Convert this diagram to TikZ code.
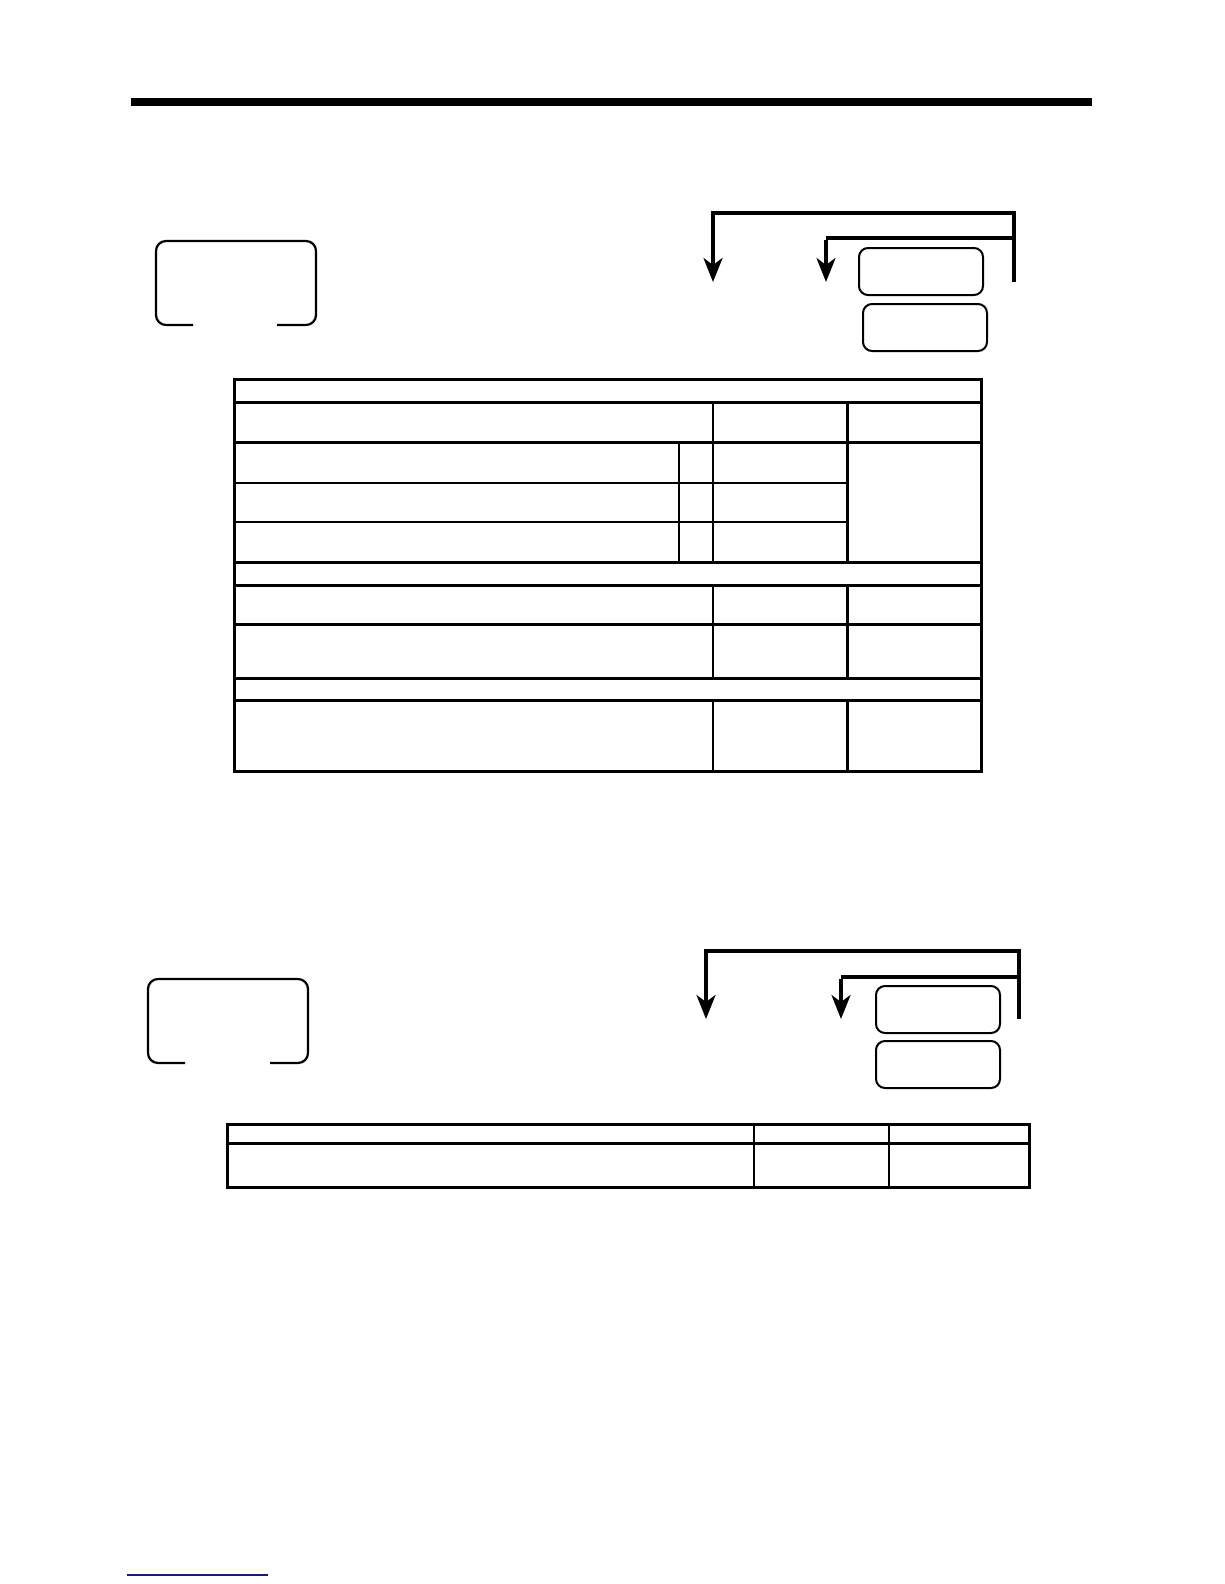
\documentclass[tikz,border=0pt]{standalone}
\usetikzlibrary{arrows.meta}
\definecolor{navy}{RGB}{25,25,120}
\tikzset{
  keybox/.style={draw, rounded corners=9pt, line width=2pt, minimum width=124pt, minimum height=47pt, inner sep=0pt, anchor=north west},
  openbox/.style={line width=2.2pt, rounded corners=10pt},
  bracket/.style={line width=4.5pt},
  drop/.style={line width=3.5pt, -{Stealth[length=24pt,width=19pt,inset=7pt]}},
  tthick/.style={line width=3pt},
  tthin/.style={line width=1.8pt},
}
\begin{document}
\begin{tikzpicture}[x=1pt,y=-1pt]
\useasboundingbox (0,0) rectangle (1224,1584);
% header rule
\draw[line width=8pt] (131,102) -- (1092,102);

% ===== section 1 =====
\draw[openbox] (193,325) -- (156,325) -- (156,241) -- (316,241) -- (316,325) -- (277,325);
\node[keybox] (k1a) at (858,247) {};
\node[keybox] (k1b) at (862,303) {};
\coordinate (b1r) at (1014,282);
\coordinate (b1tr) at (1014,213);
\coordinate (b1tl) at (713,213);
\coordinate (b1a) at (713,282);
\coordinate (b1ir) at (1014,238);
\coordinate (b1il) at (826,238);
\coordinate (b1b) at (826,282);
\draw[bracket, line cap=butt] (b1r) -- (b1tr) -- (b1tl) -- ++(0,2);
\draw[bracket] (b1ir) -- (b1il);
\draw[drop] ([yshift=-2.2pt]b1tl) -- (b1a);
\draw[drop] ([yshift=-2.2pt]b1il) -- (b1b);

% table 1
\draw[tthick] (234,379) rectangle (981,771);
\draw[tthick] (234,402) -- (981,402);
\draw[tthick] (234,442) -- (981,442);
\draw[tthin] (234,483) -- (847,483);
\draw[tthin] (234,522) -- (847,522);
\draw[tthick] (234,562) -- (981,562);
\draw[tthick] (234,585) -- (981,585);
\draw[tthick] (234,624) -- (981,624);
\draw[tthick] (234,678) -- (981,678);
\draw[tthick] (234,700) -- (981,700);
\draw[tthin] (679,442) -- (679,562);
\draw[tthin] (713,402) -- (713,562);
\draw[tthick] (847,402) -- (847,562);
\draw[tthin] (713,585) -- (713,678);
\draw[tthick] (847,585) -- (847,678);
\draw[tthin] (713,700) -- (713,771);
\draw[tthick] (847,700) -- (847,771);

% ===== section 2 =====
\draw[openbox] (185,1063) -- (148,1063) -- (148,979) -- (308,979) -- (308,1063) -- (270,1063);
\node[keybox] (k2a) at (875,985) {};
\node[keybox] (k2b) at (875,1040) {};
\coordinate (b2r) at (1019,1019);
\coordinate (b2tr) at (1019,951);
\coordinate (b2tl) at (706,951);
\coordinate (b2a) at (706,1019);
\coordinate (b2ir) at (1019,977);
\coordinate (b2il) at (841,977);
\coordinate (b2b) at (841,1019);
\draw[bracket, line cap=butt] (b2r) -- (b2tr) -- (b2tl) -- ++(0,2);
\draw[bracket] (b2ir) -- (b2il);
\draw[drop] ([yshift=-2.2pt]b2tl) -- (b2a);
\draw[drop] ([yshift=-2.2pt]b2il) -- (b2b);

% table 2
\draw[tthick] (227,1124) rectangle (1029,1187);
\draw[tthick] (227,1143) -- (1029,1143);
\draw[tthin] (754,1124) -- (754,1187);
\draw[tthin] (889,1124) -- (889,1187);

% footer link line
\draw[navy, line width=1.2pt] (127,1575) -- (268,1575);
\end{tikzpicture}
\end{document}
